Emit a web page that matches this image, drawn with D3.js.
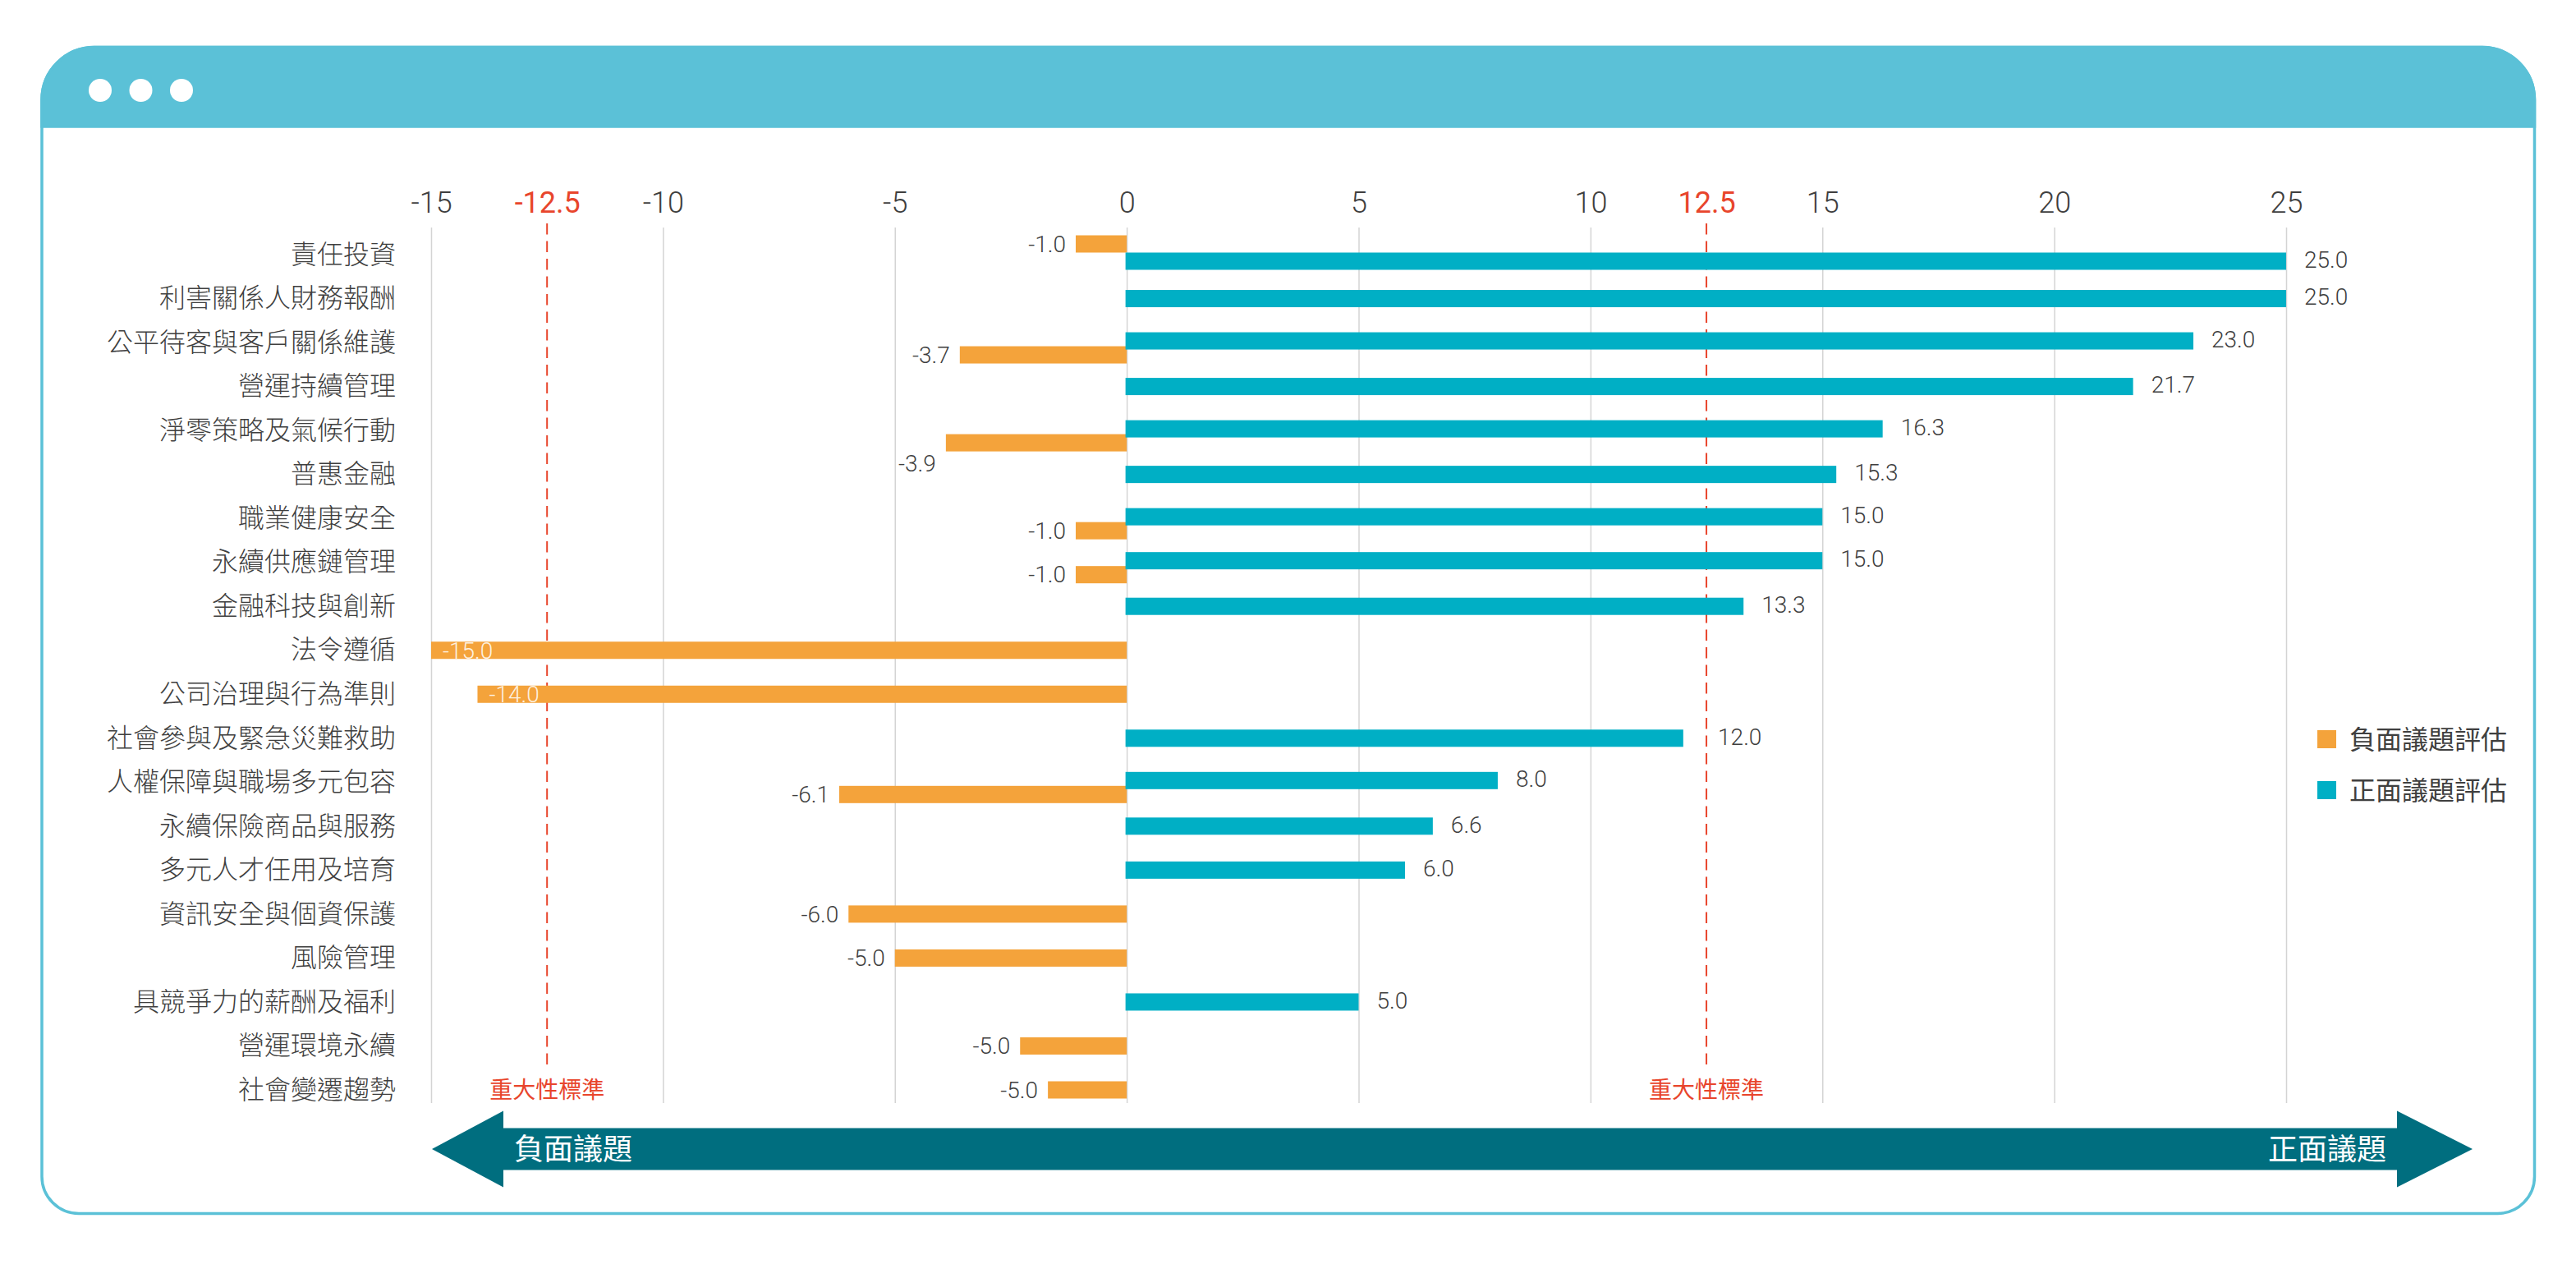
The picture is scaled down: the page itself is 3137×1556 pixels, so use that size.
<!DOCTYPE html>
<html>
<head>
<meta charset="utf-8">
<script src="https://cdn.jsdelivr.net/npm/d3@7"></script>
<style>
  html, body { margin: 0; padding: 0; background: #ffffff; }
  svg { display: block; }
</style>
</head>
<body>
<svg id="chart" width="3137" height="1556"></svg>
<script>
// ---------------- DATA ----------------
const categories = [
  "責任投資", "利害關係人財務報酬", "公平待客與客戶關係維護", "營運持續管理",
  "淨零策略及氣候行動", "普惠金融", "職業健康安全", "永續供應鏈管理",
  "金融科技與創新", "法令遵循", "公司治理與行為準則", "社會參與及緊急災難救助",
  "人權保障與職場多元包容", "永續保險商品與服務", "多元人才任用及培育",
  "資訊安全與個資保護", "風險管理", "具競爭力的薪酬及福利", "營運環境永續", "社會變遷趨勢"
];
// negative-issue assessment (bar lengths as drawn)
const negValues = [-1.1, null, -3.6, null, -3.9, null, -1.1, -1.1, null, -15.0,
                   -14.0, null, -6.2, null, null, -6.0, -5.0, null, -2.3, -1.7];
// negative-issue value labels (as printed)
const negLabels = ["-1.0", null, "-3.7", null, "-3.9", null, "-1.0", "-1.0", null, "-15.0",
                   "-14.0", null, "-6.1", null, null, "-6.0", "-5.0", null, "-5.0", "-5.0"];
// positive-issue assessment
const posValues = [25.0, 25.0, 23.0, 21.7, 16.3, 15.3, 15.0, 15.0, 13.3, null,
                   null, 12.0, 8.0, 6.6, 6.0, null, null, 5.0, null, null];
const posLabels = ["25.0", "25.0", "23.0", "21.7", "16.3", "15.3", "15.0", "15.0", "13.3", null,
                   null, "12.0", "8.0", "6.6", "6.0", null, null, "5.0", null, null];
const axisTicks = [-15, -10, -5, 0, 5, 10, 15, 20, 25];
const thresholds = [-12.5, 12.5];
const thresholdLabel = "重大性標準";
const seriesNames = ["負面議題評估", "正面議題評估"];
const arrowLabels = ["負面議題", "正面議題"];
const negFirstCategories = ["責任投資"];

// ---------------- STYLE ----------------
const C = {
  frame: "#5BC1D7", neg: "#F4A33B", pos: "#00AFC5", red: "#E8452C",
  grid: "#D4D4D4", text: "#3F3F3F", arrow: "#006E7F"
};
const NUM_FONT = "Roboto, 'Noto Sans', sans-serif";
const CJK_FONT = "'Noto Sans CJK TC', 'Noto Sans CJK SC', sans-serif";

const svg = d3.select("#chart");

// ---------------- FRAME ----------------
function roundedPath(x0, y0, x1, y1, rt, rb) {
  return `M${x0},${y0 + rt} A${rt},${rt} 0 0 1 ${x0 + rt},${y0} L${x1 - rt},${y0}
          A${rt},${rt} 0 0 1 ${x1},${y0 + rt} L${x1},${y1 - rb}
          A${rb},${rb} 0 0 1 ${x1 - rb},${y1} L${x0 + rb},${y1}
          A${rb},${rb} 0 0 1 ${x0},${y1 - rb} Z`;
}
const fx0 = 51, fy0 = 57.5, fx1 = 3086.5, fy1 = 1477.5, rTop = 64, rBot = 45, headerBottom = 154;
svg.append("path").attr("d", roundedPath(fx0, fy0, fx1, fy1, rTop, rBot))
  .attr("fill", "#fff").attr("stroke", C.frame).attr("stroke-width", 3.5);
svg.append("path")
  .attr("d", `M${fx0},${headerBottom} L${fx0},${fy0 + rTop} A${rTop},${rTop} 0 0 1 ${fx0 + rTop},${fy0}
              L${fx1 - rTop},${fy0} A${rTop},${rTop} 0 0 1 ${fx1},${fy0 + rTop} L${fx1},${headerBottom} Z`)
  .attr("fill", C.frame).attr("stroke", C.frame).attr("stroke-width", 3.5);
svg.append("g").selectAll("circle").data([0, 1, 2]).join("circle")
  .attr("cx", d => 122 + d * 49.5).attr("cy", 110).attr("r", 14).attr("fill", "#fff");

// ---------------- SCALES ----------------
const gridTop = 277, gridBottom = 1343;
const x = d3.scaleLinear().domain([-15, 25]).range([525, 2784]);
const y = d3.scalePoint().domain(categories).range([310, 1327]);
const barH = 21;

// gridlines
const gridG = svg.append("g").attr("transform", `translate(0,${gridTop})`)
  .call(d3.axisBottom(x).tickValues(axisTicks).tickSize(gridBottom - gridTop).tickFormat(""));
gridG.select(".domain").remove();
gridG.selectAll(".tick line").attr("stroke", C.grid).attr("stroke-width", 1.5);

// tick labels
const tickG = svg.append("g").attr("transform", "translate(0,259)")
  .call(d3.axisTop(x).tickValues(axisTicks).tickSize(0).tickPadding(0).tickFormat(d3.format("d")));
tickG.select(".domain").remove();
tickG.selectAll("text").attr("font-family", NUM_FONT).attr("font-weight", 300)
  .attr("font-size", 36).attr("fill", C.text).text(d => d < 0 ? "-" + Math.abs(d) : d);

const thrG = svg.append("g").attr("transform", "translate(0,259)")
  .call(d3.axisTop(x).tickValues(thresholds).tickSize(0).tickPadding(0));
thrG.select(".domain").remove();
thrG.selectAll("text").attr("font-family", NUM_FONT).attr("font-weight", 400)
  .attr("font-size", 36).attr("fill", C.red).text(d => d < 0 ? "-" + Math.abs(d) : d);

// category labels
const catG = svg.append("g").attr("transform", "translate(482,0)")
  .call(d3.axisLeft(y).tickSize(0).tickPadding(0));
catG.select(".domain").remove();
catG.selectAll("text").attr("font-family", CJK_FONT).attr("font-weight", 300)
  .attr("font-size", 32).attr("fill", C.text);

// ---------------- BARS ----------------
const rows = categories.map((c, i) => {
  const hasN = negValues[i] != null, hasP = posValues[i] != null;
  const cy = y(c);
  let nc = cy, pc = cy;
  if (hasN && hasP) {
    if (negFirstCategories.includes(c)) { nc = cy - 13; pc = cy + 8; }
    else { pc = cy - 2; nc = cy + 15; }
  }
  return { c, i, neg: negValues[i], pos: posValues[i], nl: negLabels[i], pl: posLabels[i], nc, pc };
});

// threshold dashed lines
svg.append("g").selectAll("line").data(thresholds).join("line")
  .attr("x1", d => x(d)).attr("x2", d => x(d)).attr("y1", 272).attr("y2", 1303)
  .attr("stroke", C.red).attr("stroke-width", 2).attr("stroke-dasharray", "13.5 8");

const negRows = rows.filter(r => r.neg != null);
const posRows = rows.filter(r => r.pos != null);

svg.append("g").selectAll("rect").data(negRows).join("rect")
  .attr("x", d => x(d.neg)).attr("width", d => x(0) - x(d.neg))
  .attr("y", d => d.nc - barH / 2).attr("height", barH).attr("fill", C.neg);
svg.append("g").selectAll("rect").data(posRows).join("rect")
  .attr("x", x(0) - 1.5).attr("width", d => x(d.pos) - x(0) + 1.5)
  .attr("y", d => d.pc - barH / 2).attr("height", barH).attr("fill", C.pos);

// value labels
const labelNudge = { "淨零策略及氣候行動": 25 };
svg.append("g").selectAll("text").data(negRows).join("text")
  .attr("font-family", NUM_FONT).attr("font-weight", 300).attr("font-size", 28)
  .attr("dy", "0.35em")
  .each(function (d) {
    const inside = d.neg <= thresholds[0];
    d3.select(this)
      .attr("x", inside ? x(d.neg) + 14 : x(d.neg) - 12)
      .attr("y", d.nc + (labelNudge[d.c] || 0))
      .attr("text-anchor", inside ? "start" : "end")
      .attr("fill", inside ? "#ffffff" : C.text)
      .attr("fill-opacity", inside ? 0.85 : 1)
      .text(d.nl);
  });
svg.append("g").selectAll("text").data(posRows).join("text")
  .attr("font-family", NUM_FONT).attr("font-weight", 300).attr("font-size", 28)
  .attr("dy", "0.35em").attr("fill", C.text)
  .attr("x", d => {
    const xe = x(d.pos), xt = x(thresholds[1]);
    return (xe < xt && xt - xe < 40) ? xt + 14 : xe + 22;
  })
  .attr("y", d => d.pc - 2)
  .text(d => d.pl);

// threshold bottom labels
svg.append("g").selectAll("text").data(thresholds).join("text")
  .attr("x", d => x(d)).attr("y", 1327).attr("dy", "0.35em").attr("text-anchor", "middle")
  .attr("font-family", CJK_FONT).attr("font-size", 28).attr("fill", C.red)
  .text(thresholdLabel);

// ---------------- LEGEND ----------------
const legend = svg.append("g").selectAll("g").data(seriesNames).join("g")
  .attr("transform", (d, i) => `translate(2822,${889 + i * 62})`);
legend.append("rect").attr("width", 23).attr("height", 22)
  .attr("fill", (d, i) => i === 0 ? C.neg : C.pos);
legend.append("text").attr("x", 39).attr("y", 12).attr("dy", "0.35em")
  .attr("font-family", CJK_FONT).attr("font-size", 32).attr("fill", C.text).text(d => d);

// ---------------- ARROW ----------------
const ay = 1399, tipL = 526, baseL = 613, baseR = 2919, tipR = 3011;
const headHalf = 46.5, shaftHalf = 25.5;
svg.append("path")
  .attr("d", `M${tipL},${ay} L${baseL},${ay - headHalf} L${baseL},${ay - shaftHalf} L${baseR},${ay - shaftHalf}
              L${baseR},${ay - headHalf} L${tipR},${ay} L${baseR},${ay + headHalf} L${baseR},${ay + shaftHalf}
              L${baseL},${ay + shaftHalf} L${baseL},${ay + headHalf} Z`)
  .attr("fill", C.arrow);
svg.append("g").selectAll("text").data(arrowLabels).join("text")
  .attr("x", (d, i) => i === 0 ? 626 : 2906).attr("y", ay).attr("dy", "0.35em")
  .attr("text-anchor", (d, i) => i === 0 ? "start" : "end")
  .attr("font-family", CJK_FONT).attr("font-weight", 400).attr("font-size", 36)
  .attr("fill", "#ffffff").text(d => d);
</script>
</body>
</html>
